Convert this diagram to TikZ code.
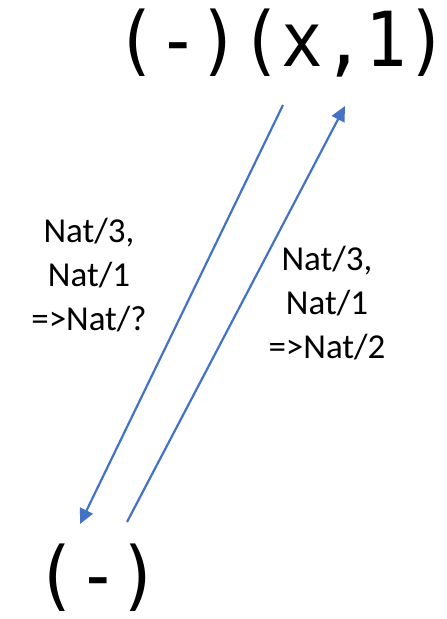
\documentclass[tikz,border=0pt]{standalone}
\usepackage{fontspec}
\setmainfont{Carlito}
\newfontfamily\codefont{DejaVu Sans Mono}
\usepackage{tikz}
\usetikzlibrary{arrows.meta, positioning}

\definecolor{arrowblue}{RGB}{68,114,196}
\tikzset{
	term/.style={inner sep=0pt, font=\codefont\fontsize{69}{69}\selectfont},
	rule/.style={inner sep=0pt, align=center, font=\fontsize{35}{44}\selectfont},
	flow/.style={draw=arrowblue, line width=2.2pt, -{Triangle[length=15pt, width=14pt]}}
}

\begin{document}
\begin{tikzpicture}[x=1pt, y=-1pt]
	\useasboundingbox (0, 0) rectangle (447, 619);
	% Terms:
	\node[term, anchor=base](T1) at (282, 66){\scalebox{1}[1.1]{(-)(x,1)}};
	\node[term, anchor=base](T2) at (98, 601){\scalebox{1}[1.1]{(-)}};
	% Arrow ends:
	\coordinate (D1) at (283, 105);
	\coordinate (D2) at (80, 524);
	\coordinate (U1) at (127, 522);
	\coordinate (U2) at (345, 106);
	\draw[flow] (D1) -- (D2);
	\draw[flow] (U1) -- (U2);
	% Labels:
	\node[rule, anchor=base](L1) at (89, 330){Nat/3,\\Nat/1\\=>Nat/?};
	\node[rule, anchor=base](L2) at (327, 358){Nat/3,\\Nat/1\\=>Nat/2};
\end{tikzpicture}
\end{document}
